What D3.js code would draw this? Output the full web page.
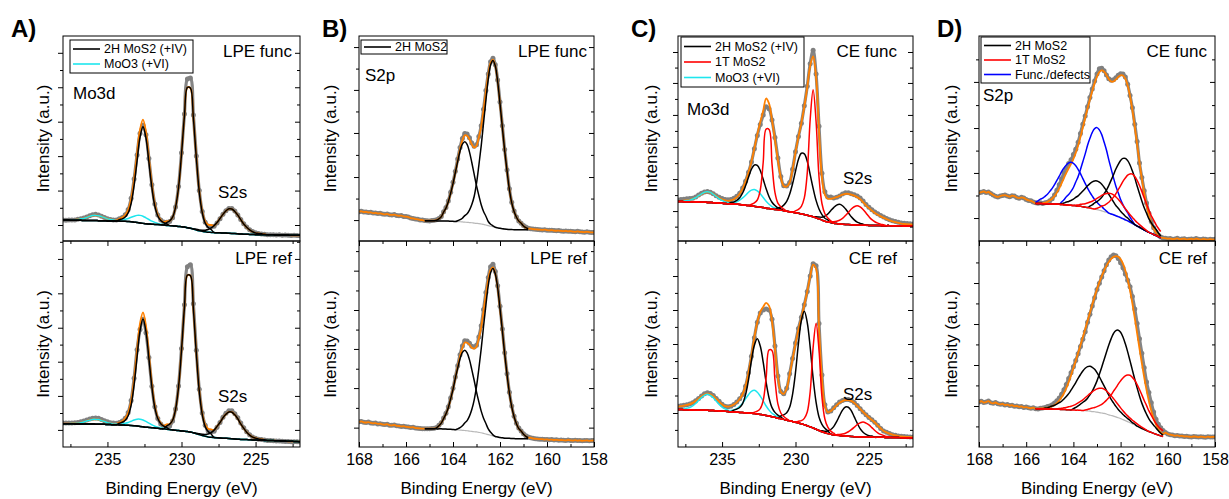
<!DOCTYPE html>
<html><head><meta charset="utf-8">
<script src="https://cdn.jsdelivr.net/npm/d3@7"></script>
<style>
html,body{margin:0;padding:0;background:#fff;}
svg{display:block;}
</style></head><body>
<script>
// ---------- energy axes (binding energy, eV) ----------
const energyMo3d = d3.range(81).map(i => Math.round((238 - 0.2 * i) * 10) / 10);
const energyS2p = d3.range(101).map(i => Math.round((168 - 0.1 * i) * 10) / 10);

const mo3dMajorTicks = [235, 230, 225];
const mo3dMinorTicks = [237.5, 232.5, 227.5, 222.5];
const s2pMajorTicks = [168, 166, 164, 162, 160, 158];
const s2pMinorTicks = [167, 165, 163, 161, 159];

// ---------- A: LPE, Mo3d ----------
const lpeFuncMo3dCounts = [10.3,10.1,10.2,10.3,10.3,10.6,10.9,11.2,11.7,12.3,12.8,13.0,12.7,12.1,11.5,10.9,10.5,10.3,10.2,10.8,11.5,12.8,15.4,20.8,30.2,42.0,52.5,56.5,51.8,40.2,27.4,18.0,12.7,10.2,9.3,9.2,9.5,11.4,16.6,26.6,43.0,62.0,79.0,79.5,61.5,41.5,24.6,14.4,9.2,7.3,7.0,7.2,8.8,10.9,13.0,14.8,15.9,15.8,14.6,12.7,10.5,8.4,6.8,5.5,4.6,4.0,3.7,3.4,3.3,3.1,3.0,3.1,2.9,3.0,2.8,2.9,2.8,2.7,2.8,2.7,2.6];
const lpeFuncMo3dBackground = [10.2,10.2,10.2,10.1,10.1,10.1,10.1,10.0,10.0,10.0,10.0,10.0,9.9,9.9,9.9,9.8,9.8,9.8,9.7,9.7,9.6,9.6,9.5,9.4,9.2,9.0,8.8,8.6,8.4,8.3,8.2,8.1,8.0,7.9,7.8,7.6,7.5,7.4,7.3,7.1,7.0,6.8,6.5,6.2,5.9,5.4,5.0,4.7,4.5,4.3,4.2,4.1,4.0,4.0,3.9,3.9,3.8,3.7,3.6,3.5,3.4,3.3,3.3,3.2,3.2,3.1,3.1,3.1,3.0,3.0,3.0,3.0,2.9,2.9,2.9,2.9,2.9,2.8,2.8,2.8,2.8];
const lpeFuncMo3dPeaks = [
  {state:'MoO3', from:237.4, vals:[.1,.2,.4,.7,1.0,1.5,2.0,2.4,2.5,2.4,2.0,1.5,1.0,.7,.4,.2,.1]},
  {state:'MoO3', from:234.4, vals:[.2,.3,.6,1.0,1.5,2.2,2.9,3.5,3.7,3.5,2.9,2.2,1.5,1.0,.6,.3,.2]},
  {state:'2H', from:234.2, vals:[.7,1.2,2.1,4.2,8.9,17.9,30.1,41.9,47.1,41.9,30.1,17.9,8.9,4.2,2.1,1.2,.7]},
  {state:'2H', from:231.0, vals:[1.4,2.3,4.2,9.2,19.0,35.3,54.3,68.4,68.4,54.3,35.3,19.0,9.2,4.2,2.3,1.4]},
  {state:'2H', from:229.0, vals:[.3,.4,.6,.8,1.3,2.2,3.4,5.0,7.0,9.1,10.8,11.9,11.9,10.8,9.1,7.0,5.0,3.4,2.2,1.3,.8,.6,.4,.3]}
];
const lpeRefMo3dCounts = [11.7,11.6,11.6,11.7,11.8,11.9,12.2,12.6,13.1,13.6,14.0,14.1,13.9,13.4,12.8,12.2,11.8,11.6,11.5,11.9,12.6,13.9,16.8,22.6,33.4,47.2,57.0,62.0,55.5,43.4,29.5,19.5,13.8,11.2,9.8,9.6,10.2,12.6,18.4,29.6,47.8,69.0,87.5,88.5,69.5,47.0,28.0,16.5,10.6,7.8,7.4,7.6,9.6,11.9,14.5,16.4,17.6,17.6,16.2,14.2,11.6,9.4,7.4,5.9,4.9,4.2,3.8,3.6,3.4,3.2,3.1,3.0,2.9,2.9,2.8,2.7,2.7,2.6,2.6,2.5,2.4];
const lpeRefMo3dBackground = [11.3,11.3,11.3,11.3,11.2,11.2,11.2,11.2,11.2,11.2,11.2,11.1,11.1,11.0,11.0,10.9,10.9,10.8,10.8,10.7,10.7,10.6,10.5,10.4,10.3,10.2,10.0,9.8,9.6,9.5,9.4,9.2,9.1,8.9,8.8,8.6,8.5,8.3,8.1,8.0,7.8,7.7,7.5,7.3,6.9,6.4,6.0,5.6,5.2,4.9,4.7,4.6,4.5,4.4,4.3,4.2,4.1,4.0,3.9,3.8,3.7,3.6,3.6,3.5,3.4,3.4,3.3,3.3,3.2,3.2,3.1,3.1,3.0,3.0,2.9,2.9,2.8,2.8,2.7,2.7,2.6];
const lpeRefMo3dPeaks = [
  {state:'MoO3', from:237.4, vals:[.1,.2,.3,.6,.9,1.4,1.8,2.2,2.3,2.2,1.8,1.4,.9,.6,.3,.2,.1]},
  {state:'MoO3', from:234.4, vals:[.2,.3,.5,.9,1.4,2.1,2.8,3.3,3.5,3.3,2.8,2.1,1.4,.9,.5,.3,.2]},
  {state:'2H', from:234.2, vals:[.8,1.3,2.4,4.7,9.9,19.9,33.5,46.5,52.3,46.5,33.5,19.9,9.9,4.7,2.4,1.3,.8]},
  {state:'2H', from:231.0, vals:[1.6,2.6,4.7,10.2,21.1,39.1,60.2,75.9,75.9,60.2,39.1,21.1,10.2,4.7,2.6,1.6]},
  {state:'2H', from:229.0, vals:[.3,.4,.6,.9,1.4,2.3,3.6,5.5,7.5,9.9,11.7,12.9,12.9,11.7,9.9,7.5,5.5,3.6,2.3,1.4,.9,.6,.4,.3]}
];

// ---------- B: LPE, S2p ----------
const lpeFuncS2pCounts = [14.3,14.5,14.1,14.2,13.9,14.0,13.6,13.7,13.4,13.5,13.2,13.0,13.2,12.8,12.7,12.9,12.5,12.3,12.4,12.0,11.9,11.7,11.2,11.0,10.7,10.6,10.3,10.2,10.0,9.9,9.8,10.0,10.1,10.4,11.0,12.0,14.3,16.4,19.5,23.8,28.6,34.0,40.0,45.6,50.0,52.4,52.2,50.4,47.8,46.2,47.0,51.0,56.2,64.3,73.4,81.5,87.4,89.2,86.0,78.5,67.8,56.2,44.6,34.6,25.5,18.9,14.6,11.7,9.8,8.6,7.6,6.8,6.2,6.0,5.8,5.7,5.6,5.5,5.4,5.5,5.3,5.2,5.3,5.1,5.0,5.1,4.9,4.8,4.9,4.7,4.8,4.6,4.5,4.7,4.5,4.4,4.3,4.5,4.3,4.2,4.2];
const lpeFuncS2pBackground = [9.9,9.9,9.9,9.9,9.9,9.8,9.8,9.8,9.8,9.7,9.7,9.6,9.6,9.5,9.4,9.4,9.3,9.2,9.1,9.0,8.9,8.7,8.6,8.5,8.3,8.1,7.8,7.5,7.2,7.0,6.7,6.4,6.2,6.0,5.8,5.7,5.6,5.6,5.5,5.5,5.5,5.5,5.5,5.5,5.5];
const lpeFuncS2pPeaks = [
  {state:'2H', from:164.7, vals:[.4,1.0,2.0,4.3,6.3,9.4,13.7,18.4,23.9,29.4,34.5,38.0,39.2,38.0,34.5,29.4,23.9,18.4,13.7,9.4,6.3,4.3,2.0,1.0,.4]},
  {state:'2H', from:163.8, vals:[.5,1.0,1.8,3.2,4.2,6.1,8.9,13.0,19.5,28.4,38.1,49.5,60.8,71.4,78.7,81.1,78.7,71.4,60.8,49.5,38.1,28.4,19.5,13.0,8.9,6.1,4.2,3.2,1.8,1.0,.5]}
];
const lpeRefS2pCounts = [12.2,12.4,12.0,11.9,12.1,11.7,11.5,11.6,11.2,11.3,11.0,10.9,11.1,10.6,10.5,10.7,10.3,10.2,10.0,10.1,9.8,9.7,9.5,9.6,9.2,9.1,9.0,8.9,8.9,8.8,8.9,9.0,9.1,9.5,10.5,11.8,14.1,16.4,19.5,23.8,28.5,34.0,39.4,44.8,49.0,51.6,51.4,50.4,48.9,48.5,49.4,53.4,58.8,66.8,75.0,82.3,87.5,88.7,85.2,78.3,68.3,57.3,45.8,35.6,26.6,19.9,14.9,11.5,9.2,7.8,6.4,5.5,4.9,4.5,4.2,4.0,3.9,3.8,3.8,3.6,3.7,3.5,3.6,3.4,3.5,3.3,3.4,3.3,3.2,3.4,3.2,3.1,3.3,3.1,3.2,3.0,3.1,3.2,3.0,3.1,3.2];
const lpeRefS2pBackground = [8.9,8.9,8.9,8.9,8.9,8.8,8.8,8.8,8.7,8.7,8.6,8.6,8.5,8.4,8.3,8.2,8.1,8.0,7.9,7.7,7.6,7.4,7.3,7.1,6.9,6.6,6.3,6.0,5.7,5.4,5.1,4.9,4.6,4.5,4.3,4.2,4.2,4.1,4.1,4.0,4.0,4.0,4.0,4.0,4.0];
const lpeRefS2pPeaks = [
  {state:'2H', from:164.7, vals:[.5,1.5,2.8,5.1,7.4,10.5,14.8,19.5,25.0,30.0,34.7,37.8,39.0,37.8,34.7,30.0,25.0,19.5,14.8,10.5,7.4,5.1,2.8,1.5,.5]},
  {state:'2H', from:163.8, vals:[.5,1.2,2.2,3.7,4.9,7.3,10.6,15.4,22.0,30.9,40.7,52.0,62.6,72.4,78.9,81.3,78.9,72.4,62.6,52.0,40.7,30.9,22.0,15.4,10.6,7.3,4.9,3.7,2.2,1.2,.5]}
];

// ---------- C: CE, Mo3d ----------
const ceFuncMo3dCounts = [20.0,20.2,20.4,20.6,20.7,20.9,21.5,22.4,23.3,23.9,24.1,23.8,23.0,22.1,21.3,20.7,20.3,20.1,20.3,20.9,21.8,23.3,25.8,29.2,33.5,38.5,45.0,51.5,56.8,61.5,65.5,64.5,59.0,50.5,40.5,31.5,27.0,26.8,28.5,35.0,43.5,51.0,57.5,66.0,75.5,86.5,93.0,81.5,56.0,33.0,24.0,21.5,21.5,21.0,21.3,22.0,22.9,23.5,23.5,23.0,22.6,22.0,21.0,19.5,17.8,16.5,15.3,14.2,13.3,12.4,11.7,11.0,10.4,9.9,9.5,9.1,8.8,8.6,8.5,8.4,8.3];
const ceFuncMo3dFit = [19.4,19.5,19.7,19.9,20.1,20.5,21.1,22.0,22.9,23.6,23.9,23.6,22.9,21.9,21.0,20.3,19.8,19.6,19.8,20.4,21.4,23.0,25.6,29.0,33.4,38.6,45.2,52.0,58.0,63.5,69.5,67.0,59.0,49.5,39.5,31.0,26.8,26.6,28.5,34.8,43.2,50.8,57.5,65.5,75.0,85.5,90.0,80.0,54.0,31.0,22.5,20.6,20.6,20.9,21.4,22.0,22.6,23.0,23.0,22.6,22.1,21.4,20.4,19.0,17.4,16.0,14.8,13.7,12.8,12.0,11.3,10.7,10.1,9.6,9.2,8.8,8.5,8.3,8.2,8.1,8.0];
const ceFuncMo3dBackground = [19.3,19.3,19.2,19.2,19.1,19.1,19.0,19.0,18.9,18.9,18.8,18.8,18.7,18.6,18.5,18.4,18.3,18.2,18.1,18.0,17.9,17.8,17.6,17.4,17.3,17.1,16.9,16.7,16.5,16.3,16.0,15.8,15.6,15.4,15.2,15.0,14.8,14.5,14.3,14.0,13.8,13.5,13.2,12.9,12.6,12.2,11.8,11.3,10.8,10.2,9.6,9.3,9.0,8.7,8.5,8.3,8.2,8.1,8.0,7.9,7.8,7.8,7.7,7.7,7.7,7.6,7.6,7.6,7.6,7.5,7.5,7.5,7.5,7.4,7.4,7.4,7.4,7.3,7.3,7.3,7.3];
const ceFuncMo3dPeaks = [
  {state:'MoO3', from:237.6, vals:[.3,.5,.8,1.4,2.1,3.1,4.1,4.9,5.2,4.9,4.1,3.1,2.1,1.4,.8,.5,.3]},
  {state:'MoO3', from:234.4, vals:[.4,.7,1.2,2.1,3.4,4.9,6.5,7.7,8.2,7.7,6.5,4.9,3.4,2.1,1.2,.7,.4]},
  {state:'2H', from:234.4, vals:[.7,1.0,1.9,3.3,5.8,9.5,13.8,17.9,20.2,20.2,17.9,13.8,9.5,5.8,3.3,1.9,1.0,.7]},
  {state:'2H', from:231.2, vals:[1.0,1.5,2.7,4.8,8.5,13.9,20.2,26.3,29.6,29.6,26.3,20.2,13.9,8.5,4.8,2.7,1.5,1.0]},
  {state:'2H', from:228.6, vals:[.5,.9,1.4,2.5,3.9,5.8,7.6,9.0,9.6,9.0,7.6,5.8,3.9,2.5,1.4,.9,.5]},
  {state:'1T', from:233.0, vals:[.8,1.7,3.3,8.3,22.0,38.6,38.6,22.0,8.3,3.3,1.7,.8]},
  {state:'1T', from:230.0, vals:[.9,1.9,3.7,8.1,20.5,47.1,62.0,47.1,20.5,8.1,3.7,1.9,.9]},
  {state:'1T', from:227.6, vals:[.4,.7,1.1,1.8,2.8,4.3,6.0,7.7,8.9,9.4,8.9,7.7,6.0,4.3,2.8,1.8,1.1,.7,.4]}
];
const ceRefMo3dCounts = [19.8,20.0,20.3,20.5,20.9,21.5,22.4,23.5,24.8,25.8,26.3,26.0,25.0,23.6,22.2,20.8,19.8,19.5,19.8,20.6,21.8,23.4,25.5,29.5,36.0,44.0,53.0,60.5,65.0,66.5,67.0,66.5,62.0,49.0,34.5,27.0,25.8,28.5,35.5,43.0,50.5,57.5,63.0,69.0,75.5,83.0,89.0,88.0,60.0,35.0,20.5,17.0,17.5,19.0,20.5,21.8,22.6,23.0,23.1,22.6,21.6,20.2,18.6,17.0,15.6,14.3,13.2,12.0,10.5,9.0,7.8,7.1,6.5,6.0,5.7,5.4,5.2,5.1,5.0,4.9,4.9];
const ceRefMo3dFit = [19.6,19.8,20.1,20.4,20.8,21.4,22.3,23.4,24.6,25.5,25.9,25.6,24.7,23.4,22.0,20.7,19.8,19.6,19.9,20.6,21.7,23.3,25.6,29.6,36.2,44.3,53.2,60.6,65.5,68.0,70.0,68.5,61.0,48.0,34.0,26.8,25.8,28.4,35.2,42.6,50.0,57.0,62.8,68.8,75.5,82.8,88.5,86.5,58.0,33.5,20.0,16.9,17.4,18.8,20.2,21.5,22.3,22.7,22.8,22.4,21.4,20.0,18.5,17.0,15.6,14.3,13.1,11.9,10.4,9.0,7.8,7.1,6.5,6.0,5.6,5.3,5.1,5.0,4.9,4.8,4.8];
const ceRefMo3dBackground = [18.2,18.2,18.1,18.1,18.0,18.0,17.9,17.9,17.8,17.8,17.8,17.7,17.7,17.6,17.5,17.4,17.3,17.2,17.1,17.0,16.9,16.8,16.7,16.6,16.5,16.4,16.2,16.0,15.8,15.6,15.3,15.0,14.7,14.4,14.0,13.7,13.4,13.0,12.7,12.4,12.0,11.7,11.3,10.8,10.3,9.8,9.2,8.6,8.0,7.4,6.9,6.5,6.2,5.9,5.7,5.6,5.4,5.3,5.2,5.1,5.0,5.0,4.9,4.9,4.8,4.8,4.8,4.7,4.7,4.7,4.7,4.6,4.6,4.6,4.6,4.6,4.5,4.5,4.5,4.5,4.5];
const ceRefMo3dPeaks = [
  {state:'MoO3', from:237.6, vals:[.4,.7,1.2,2.0,3.2,4.7,6.2,7.3,7.8,7.3,6.2,4.7,3.2,2.0,1.2,.7,.4]},
  {state:'MoO3', from:234.4, vals:[.6,1.0,1.7,2.9,4.6,6.8,8.9,10.6,11.3,10.6,8.9,6.8,4.6,2.9,1.7,1.0,.6]},
  {state:'2H', from:234.2, vals:[.9,1.5,2.4,4.4,8.8,16.1,25.6,33.2,36.5,33.2,25.6,16.1,8.8,4.4,2.4,1.5,.9]},
  {state:'2H', from:231.0, vals:[1.4,2.2,3.6,6.6,13.2,24.2,38.6,50.1,55.1,50.1,38.6,24.2,13.2,6.6,3.6,2.2,1.4]},
  {state:'2H', from:228.2, vals:[.5,.7,1.3,2.3,4.0,6.6,9.6,12.5,14.1,14.1,12.5,9.6,6.6,4.0,2.3,1.3,.7,.5]},
  {state:'1T', from:232.8, vals:[.7,1.4,2.8,6.9,18.3,32.1,32.1,18.3,6.9,2.8,1.4,.7]},
  {state:'1T', from:229.8, vals:[.8,1.5,3.1,6.7,17.0,39.1,51.4,39.1,17.0,6.7,3.1,1.5,.8]},
  {state:'1T', from:227.2, vals:[.3,.5,.9,1.4,2.2,3.3,4.6,5.9,6.8,7.2,6.8,5.9,4.6,3.3,2.2,1.4,.9,.5,.3]}
];

// ---------- D: CE, S2p ----------
const ceFuncS2pCounts = [23.5,23.8,24.2,23.6,23.9,23.2,22.4,21.8,21.5,21.9,22.2,22.4,22.0,21.6,22.1,21.9,21.2,20.9,21.3,21.0,20.3,19.8,19.6,19.0,18.6,18.4,18.6,18.3,18.7,18.9,19.6,20.6,22.5,24.8,27.5,30.4,33.2,35.6,37.8,39.6,42.2,44.8,48.2,52.5,57.0,61.0,65.5,70.0,74.2,78.0,81.5,84.0,84.3,83.0,81.0,79.2,78.4,78.6,79.6,80.8,81.6,81.5,80.0,76.5,71.0,65.0,57.0,48.5,38.0,31.0,24.5,18.5,13.5,9.5,6.5,4.3,2.9,1.9,1.5,1.3,1.1,1.2,0.9,1.0,1.3,0.8,1.0,1.1,0.7,0.9,1.0,0.8,1.2,0.9,0.7,1.0,0.8,0.6,0.9,0.7,0.8];
const ceFuncS2pFit = [18.3,18.3,18.4,18.5,18.7,19.1,19.7,20.6,21.9,23.6,25.7,28.1,30.7,33.2,35.5,37.6,40.0,43.0,46.6,50.8,55.4,60.0,64.6,69.0,73.2,77.0,80.2,82.4,83.2,82.6,80.9,79.0,77.8,77.8,78.8,80.0,80.8,80.7,79.2,75.8,70.6,63.8,55.8,47.0,38.4,30.4,23.4,17.4,12.6,8.8,6.0,4.0,2.6,1.7];
const ceFuncS2pBackground = [18.3,18.3,18.3,18.2,18.2,18.2,18.1,18.1,18.0,18.0,17.9,17.8,17.7,17.6,17.5,17.4,17.3,17.2,17.0,16.9,16.7,16.5,16.3,16.1,15.8,15.6,15.3,15.0,14.7,14.3,14.0,13.6,13.2,12.8,12.3,11.9,11.4,10.9,10.3,9.8,9.2,8.6,8.0,7.3,6.7,6.0,5.4,4.8,4.2,3.7,3.2,2.7,2.1,1.5];
const ceFuncS2pPeaks = [
  {state:'func', from:165.6, vals:[.6,1.3,2.1,2.7,3.6,4.6,6.1,7.6,9.5,11.6,13.7,16.0,17.9,19.5,20.6,21.0,20.6,19.5,17.9,16.0,13.7,11.6,9.5,7.6,6.1,4.6,3.6,2.7,2.1,1.3,.6]},
  {state:'func', from:164.5, vals:[1.2,2.4,4.0,5.2,6.8,8.8,11.6,14.4,18.0,22.0,26.0,30.4,34.0,37.2,39.2,40.0,39.2,37.2,34.0,30.4,26.0,22.0,18.0,14.4,11.6,8.8,6.8,5.2,4.0,2.4,1.2]},
  {state:'2H', from:164.5, vals:[.4,.8,1.4,1.8,2.4,3.1,4.1,5.0,6.3,7.7,9.1,10.6,11.9,13.0,13.7,14.0,13.7,13.0,11.9,10.6,9.1,7.7,6.3,5.0,4.1,3.1,2.4,1.8,1.4,.8,.4]},
  {state:'2H', from:163.3, vals:[.9,1.8,3.0,3.9,5.1,6.6,8.7,10.8,13.5,16.5,19.5,22.8,25.5,27.9,29.4,30.0,29.4,27.9,25.5,22.8,19.5,16.5,13.5,10.8,8.7,6.6,5.1,3.9,3.0,1.8,.9]},
  {state:'1T', from:163.9, vals:[.3,.6,1.0,1.3,1.7,2.2,2.9,3.6,4.5,5.5,6.5,7.6,8.5,9.2,9.7,9.9,9.7,9.2,8.5,7.6,6.5,5.5,4.5,3.6,2.9,2.2,1.7,1.3,1.0,.6,.3]},
  {state:'1T', from:163.0, vals:[.7,1.4,2.4,3.1,4.1,5.3,7.0,8.6,10.8,13.2,15.6,18.2,20.4,22.3,23.5,24.0,23.5,22.3,20.4,18.2,15.6,13.2,10.8,8.6,7.0,5.3,4.1,3.1]}
];
const ceRefS2pCounts = [21.9,22.2,21.6,21.8,22.3,21.5,21.2,21.6,21.0,20.7,20.9,20.4,20.6,20.1,20.3,19.8,19.9,19.5,19.7,19.2,19.4,19.0,18.8,19.1,18.6,18.4,18.8,18.9,19.2,19.6,19.9,20.5,21.3,22.4,23.8,25.6,27.8,30.4,33.2,36.0,38.9,42.0,45.3,48.8,52.3,56.0,60.5,64.5,68.5,72.5,76.5,79.5,82.5,85.5,88.5,90.8,92.4,93.2,92.8,91.5,89.5,87.0,84.0,81.0,77.8,73.0,67.0,60.0,52.5,45.5,38.5,31.5,26.5,21.5,17.0,13.5,11.0,9.3,8.0,7.0,6.3,6.0,5.8,5.5,5.6,5.3,5.4,5.1,5.2,5.0,4.9,5.1,5.0,4.8,5.0,4.9,4.7,5.0,4.8,4.9,4.9];
const ceRefS2pFit = [18.6,18.6,18.7,18.8,18.9,19.1,19.4,19.8,20.4,21.3,22.5,24.1,26.1,28.6,31.5,34.8,38.3,41.9,45.6,49.4,53.3,57.2,61.2,65.2,69.2,73.0,76.6,79.9,82.9,85.6,87.9,89.8,91.3,92.3,92.7,92.4,91.2,89.0,85.7,81.3,75.9,69.6,62.6,55.2,47.8,40.6,33.8,27.6,22.2,17.6,13.8,10.8,8.6,7.1,6.3];
const ceRefS2pBackground = [18.6,18.6,18.5,18.5,18.5,18.4,18.4,18.4,18.3,18.3,18.3,18.2,18.2,18.1,18.1,18.0,18.0,17.9,17.9,17.8,17.7,17.6,17.5,17.4,17.2,17.1,16.9,16.7,16.5,16.3,16.0,15.6,15.3,15.0,14.6,14.2,13.8,13.3,12.8,12.3,11.8,11.2,10.7,10.1,9.6,9.0,8.5,8.0,7.5,7.1,6.6,6.2,5.8,5.4,5.1];
const ceRefS2pPeaks = [
  {state:'2H', from:165.2, vals:[.4,.6,1.1,1.5,2.0,2.5,3.2,4.0,5.1,6.4,7.8,9.6,11.4,13.4,15.4,17.4,19.2,20.6,21.5,21.8,21.5,20.6,19.2,17.4,15.4,13.4,11.4,9.6,7.8,6.4,5.1,4.0,3.2,2.5,2.0,1.5,1.1,.6,.4]},
  {state:'2H', from:164.0, vals:[.6,1.3,2.1,3.0,4.0,4.9,6.2,7.9,9.9,12.3,15.2,18.6,22.2,26.1,30.0,33.9,37.3,40.1,41.9,42.5,41.9,40.1,37.3,33.9,30.0,26.1,22.2,18.6,15.2,12.3,9.9,7.9,6.2,4.9,4.0,3.0,2.1,1.3,.6]},
  {state:'1T', from:164.7, vals:[.2,.4,.6,.8,1.1,1.4,1.8,2.2,2.8,3.5,4.3,5.2,6.3,7.4,8.5,9.6,10.5,11.3,11.8,12.0,11.8,11.3,10.5,9.6,8.5,7.4,6.3,5.2,4.3,3.5,2.8,2.2,1.8,1.4,1.1,.8,.6,.4,.2]},
  {state:'1T', from:163.5, vals:[.4,.7,1.2,1.7,2.1,2.7,3.4,4.2,5.3,6.7,8.3,10.0,12.1,14.1,16.3,18.3,20.2,21.7,22.6,23.0,22.6,21.7,20.2,18.3,16.3,14.1,12.1,10.0,8.3,6.7,5.3,4.2,3.4,2.7]}
];

// ---------- legends ----------
const legendLpeMo3d = [['2H MoS2 (+IV)', '2H'], ['MoO3 (+VI)', 'MoO3']];
const legendLpeS2p = [['2H MoS2', '2H']];
const legendCeMo3d = [['2H MoS2 (+IV)', '2H'], ['1T MoS2', '1T'], ['MoO3 (+VI)', 'MoO3']];
const legendCeS2p = [['2H MoS2', '2H'], ['1T MoS2', '1T'], ['Func./defects', 'func']];

// ---------- intensity-axis ticks (a.u.) ----------
const yTicksLpeFuncMo = {major:[7.8,24.6,41.4,58.2,75.0,91.8], minor:[16.2,33.0,49.8,66.6,83.4]};
const yTicksLpeRefMo = {major:[8.3,24.8,41.4,57.9,74.6,91.3], minor:[16.5,33.1,49.7,66.3,83.0,99.6]};
const yTicksLpeFuncS = {major:[10.2,31.2,52.7,73.7,94.6], minor:[20.7,42.0,63.2,84.1]};
const yTicksLpeRefS = {major:[9.4,28.6,47.6,66.5,85.6], minor:[19.0,38.0,57.0,76.0,95.1]};
const yTicksCeFuncMo = {major:[14.6,30.2,45.9,61.5,77.1,92.2], minor:[7.0,22.4,38.0,53.7,69.3,84.6]};
const yTicksCeRefMo = {major:[16.5,33.5,50.0,66.5,83.0], minor:[8.3,25.0,41.7,58.3,74.8,91.3]};
const yTicksCeFuncS = {major:[11.2,33.2,55.1,77.6], minor:[22.2,44.1,66.3,88.6]};
const yTicksCeRefS = {major:[19.9,39.8,59.7,79.6], minor:[10.0,29.9,49.8,69.7,89.6]};

// ---------- styling and layout ----------
const FONT = '"Liberation Sans", Arial, Helvetica, sans-serif';
const COLORS = {'2H':'#000000', '1T':'#ff0000', 'MoO3':'#1ee6ee', 'func':'#0000ff'};
const DRAW_ORDER = ['MoO3', 'func', '2H', '1T'];
const W = 1229, H = 499;

const columns = [
  {x0:63, x1:300, letter:'A)', letterX:11, ylabelX:43, grid:energyMo3d, domain:[238,222], major:mo3dMajorTicks, minor:mo3dMinorTicks},
  {x0:359, x1:594, letter:'B)', letterX:322, ylabelX:330, grid:energyS2p, domain:[168,158], major:s2pMajorTicks, minor:s2pMinorTicks},
  {x0:678, x1:913, letter:'C)', letterX:631, ylabelX:651, grid:energyMo3d, domain:[238,222], major:mo3dMajorTicks, minor:mo3dMinorTicks},
  {x0:979, x1:1215, letter:'D)', letterX:937, ylabelX:951, grid:energyS2p, domain:[168,158], major:s2pMajorTicks, minor:s2pMinorTicks}
];
const rows = [{y0:36, y1:241}, {y0:241, y1:447}];

const subplots = [
  {col:0, row:0, counts:lpeFuncMo3dCounts, bg:lpeFuncMo3dBackground, bgFrom:238.0, peaks:lpeFuncMo3dPeaks, ticks:yTicksLpeFuncMo,
   notes:[['LPE func',292,57,'end'],['Mo3d',73,99,'start'],['S2s',218,198,'start']],
   legend:{items:legendLpeMo3d, x:70, y:40, w:123, h:33, row:15}},
  {col:0, row:1, counts:lpeRefMo3dCounts, bg:lpeRefMo3dBackground, bgFrom:238.0, peaks:lpeRefMo3dPeaks, ticks:yTicksLpeRefMo,
   notes:[['LPE ref',292,264,'end'],['S2s',218,402,'start']]},
  {col:1, row:0, counts:lpeFuncS2pCounts, bg:lpeFuncS2pBackground, bgFrom:165.2, peaks:lpeFuncS2pPeaks, ticks:yTicksLpeFuncS,
   notes:[['LPE func',587,57,'end'],['S2p',365,81,'start']],
   legend:{items:legendLpeS2p, x:361, y:40, w:86, h:14, row:14}},
  {col:1, row:1, counts:lpeRefS2pCounts, bg:lpeRefS2pBackground, bgFrom:165.2, peaks:lpeRefS2pPeaks, ticks:yTicksLpeRefS,
   notes:[['LPE ref',587,264,'end']]},
  {col:2, row:0, counts:ceFuncMo3dCounts, fit:ceFuncMo3dFit, fitFrom:238.0, bg:ceFuncMo3dBackground, bgFrom:238.0, peaks:ceFuncMo3dPeaks, ticks:yTicksCeFuncMo,
   notes:[['CE func',897,57,'end'],['Mo3d',687,115,'start'],['S2s',843,184,'start']],
   legend:{items:legendCeMo3d, x:681, y:37, w:123, h:50, row:15.5}},
  {col:2, row:1, counts:ceRefMo3dCounts, fit:ceRefMo3dFit, fitFrom:238.0, bg:ceRefMo3dBackground, bgFrom:238.0, peaks:ceRefMo3dPeaks, ticks:yTicksCeRefMo,
   notes:[['CE ref',897,264,'end'],['S2s',843,400,'start']]},
  {col:3, row:0, counts:ceFuncS2pCounts, fit:ceFuncS2pFit, fitFrom:165.6, bg:ceFuncS2pBackground, bgFrom:165.6, peaks:ceFuncS2pPeaks, ticks:yTicksCeFuncS,
   notes:[['CE func',1207,57,'end'],['S2p',983,101,'start']],
   legend:{items:legendCeS2p, x:981, y:37, w:109, h:46, row:14.5}},
  {col:3, row:1, counts:ceRefS2pCounts, fit:ceRefS2pFit, fitFrom:165.6, bg:ceRefS2pBackground, bgFrom:165.6, peaks:ceRefS2pPeaks, ticks:yTicksCeRefS,
   notes:[['CE ref',1207,264,'end']]}
];

const svg = d3.select('body').append('svg').attr('width', W).attr('height', H)
  .style('font-family', FONT);

function gridIndex(grid, e) {
  let best = 0;
  grid.forEach((g, i) => { if (Math.abs(g - e) < Math.abs(grid[best] - e)) best = i; });
  return best;
}
function placeOnGrid(grid, from, vals, fillValue) {
  const out = new Array(grid.length).fill(fillValue);
  const s = gridIndex(grid, from);
  vals.forEach((v, j) => { if (s + j < grid.length) out[s + j] = v; });
  return out;
}

const curve = d3.curveCatmullRom.alpha(0.5);

subplots.forEach((sp, k) => {
  const c = columns[sp.col], r = rows[sp.row];
  const grid = c.grid;
  const x = d3.scaleLinear().domain(c.domain).range([c.x0, c.x1]);
  const y = d3.scaleLinear().domain([0, 100]).range([r.y1, r.y0]);
  const g = svg.append('g');

  const clipId = 'clip' + k;
  svg.append('clipPath').attr('id', clipId).append('rect')
    .attr('x', c.x0).attr('y', r.y0).attr('width', c.x1 - c.x0).attr('height', r.y1 - r.y0);
  const plot = g.append('g').attr('clip-path', `url(#${clipId})`);

  const bg = placeOnGrid(grid, sp.bgFrom, sp.bg, null);
  const comps = sp.peaks.map(p => ({state: p.state, arr: placeOnGrid(grid, p.from, p.vals, 0)}));
  const fit = sp.fit ? placeOnGrid(grid, sp.fitFrom, sp.fit, null) : null;

  // fit envelope: tabulated fit where given, otherwise background plus components; raw counts outside the fit window
  const envelope = grid.map((e, i) => {
    if (fit && fit[i] !== null) return [e, fit[i]];
    if (bg[i] === null) return [e, sp.counts[i]];
    return [e, bg[i] + d3.sum(comps, cp => cp.arr[i])];
  });
  const measured = grid.map((e, i) => [e, sp.counts[i]]);

  const line = d3.line().x(d => x(d[0])).y(d => y(d[1])).curve(curve);

  // measured spectrum
  plot.append('path').datum(measured).attr('d', line)
    .attr('fill', 'none').attr('stroke', '#858585').attr('stroke-width', 3.2);
  plot.append('g').selectAll('circle').data(measured).join('circle')
    .attr('cx', d => x(d[0])).attr('cy', d => y(d[1])).attr('r', 2.5).attr('fill', '#808080');

  // envelope
  plot.append('path').datum(envelope).attr('d', line)
    .attr('fill', 'none').attr('stroke', '#ff8000').attr('stroke-width', 1.8);

  // background
  const bgPts = grid.map((e, i) => [e, bg[i]]).filter(d => d[1] !== null);
  plot.append('path').datum(bgPts).attr('d', line)
    .attr('fill', 'none').attr('stroke', '#b8b8b8').attr('stroke-width', 1.2);

  // components
  DRAW_ORDER.forEach(state => {
    comps.filter(cp => cp.state === state).forEach(cp => {
      const pts = grid.map((e, i) => [e, bg[i] === null ? null : bg[i] + cp.arr[i]]).filter(d => d[1] !== null);
      plot.append('path').datum(pts).attr('d', line)
        .attr('fill', 'none').attr('stroke', COLORS[state]).attr('stroke-width', 1.5);
    });
  });

  // frame
  g.append('rect').attr('x', c.x0).attr('y', r.y0).attr('width', c.x1 - c.x0).attr('height', r.y1 - r.y0)
    .attr('fill', 'none').attr('stroke', '#000').attr('stroke-width', 1);

  // intensity ticks (no labels)
  const axisStyle = s => { s.select('.domain').remove(); s.attr('color', '#000'); };
  g.append('g').attr('transform', `translate(${c.x0},0)`)
    .call(d3.axisLeft(y).tickValues(sp.ticks.major).tickSize(5).tickFormat('')).call(axisStyle);
  g.append('g').attr('transform', `translate(${c.x0},0)`)
    .call(d3.axisLeft(y).tickValues(sp.ticks.minor).tickSize(3).tickFormat('')).call(axisStyle);
  g.append('g').attr('transform', `translate(${c.x1},0)`)
    .call(d3.axisLeft(y).tickValues(sp.ticks.major).tickSize(5).tickFormat('')).call(axisStyle);
  g.append('g').attr('transform', `translate(${c.x1},0)`)
    .call(d3.axisLeft(y).tickValues(sp.ticks.minor).tickSize(3).tickFormat('')).call(axisStyle);

  // energy ticks
  if (sp.row === 0) {
    g.append('g').attr('transform', `translate(0,${r.y1})`)
      .call(d3.axisBottom(x).tickValues(c.major).tickSize(5).tickFormat('')).call(axisStyle);
    g.append('g').attr('transform', `translate(0,${r.y1})`)
      .call(d3.axisBottom(x).tickValues(c.minor).tickSize(3).tickFormat('')).call(axisStyle);
  } else {
    g.append('g').attr('transform', `translate(0,${r.y1})`)
      .call(d3.axisTop(x).tickValues(c.major).tickSize(5).tickFormat('')).call(axisStyle);
    g.append('g').attr('transform', `translate(0,${r.y1})`)
      .call(d3.axisTop(x).tickValues(c.minor).tickSize(3).tickFormat('')).call(axisStyle);
    const lab = g.append('g').attr('transform', `translate(0,${r.y1})`)
      .call(d3.axisBottom(x).tickValues(c.major).tickSize(0).tickPadding(7).tickFormat(d3.format('d')))
      .call(axisStyle);
    lab.selectAll('text').attr('font-size', 16).attr('font-family', FONT).attr('fill', '#000');
    g.append('text').attr('x', (c.x0 + c.x1) / 2).attr('y', 494).attr('text-anchor', 'middle')
      .attr('font-size', 17).attr('fill', '#000').text('Binding Energy (eV)');
  }

  // intensity axis title
  g.append('text').attr('transform', `translate(${c.ylabelX},${(r.y0 + r.y1) / 2}) rotate(-90)`)
    .attr('text-anchor', 'middle').attr('dominant-baseline', 'central')
    .attr('font-size', 17).attr('fill', '#000').text('Intensity (a.u.)');

  // annotations
  sp.notes.forEach(([t, tx, ty, anchor]) => {
    g.append('text').attr('x', tx).attr('y', ty).attr('text-anchor', anchor)
      .attr('font-size', 17).attr('fill', '#000').text(t);
  });

  // legend
  if (sp.legend) {
    const L = sp.legend;
    const lg = g.append('g');
    lg.append('rect').attr('x', L.x).attr('y', L.y).attr('width', L.w).attr('height', L.h)
      .attr('fill', '#fff').attr('stroke', '#000').attr('stroke-width', 1);
    L.items.forEach(([label, state], j) => {
      const yy = L.y + L.row * (j + 0.5) + (L.h - L.row * L.items.length) / 2;
      lg.append('line').attr('x1', L.x + 3).attr('x2', L.x + 30).attr('y1', yy).attr('y2', yy)
        .attr('stroke', COLORS[state]).attr('stroke-width', 1.6);
      lg.append('text').attr('x', L.x + 34).attr('y', yy).attr('dominant-baseline', 'central')
        .attr('font-size', 12.5).attr('fill', '#000').text(label);
    });
  }

  // panel letter
  if (sp.row === 0) {
    svg.append('text').attr('x', c.letterX).attr('y', 37).attr('font-size', 24).attr('font-weight', 'bold')
      .attr('fill', '#000').text(c.letter);
  }
});
</script>
</body></html>
